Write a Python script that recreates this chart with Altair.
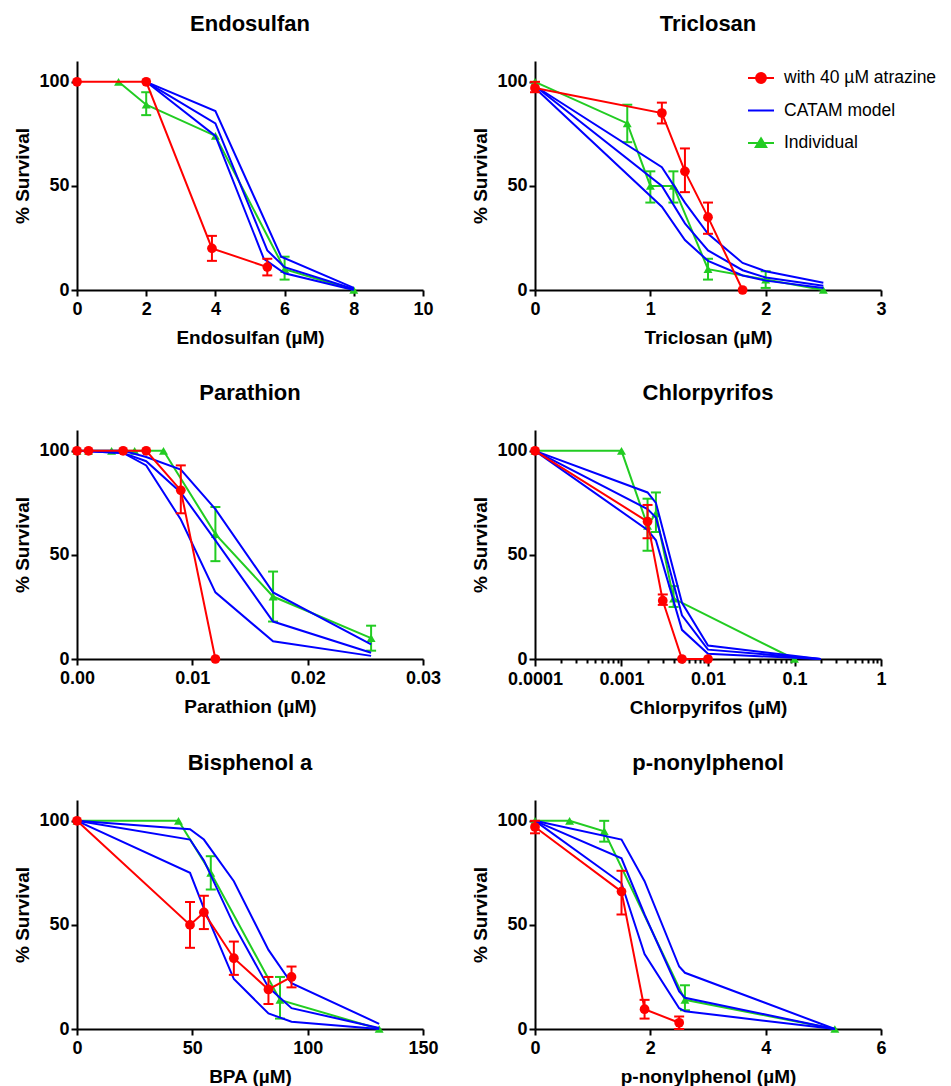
import altair as alt
import pandas as pd

FONT = "Liberation Sans"
RED = "#ff0000"
BLUE = "#0000ff"
GREEN = "#22cc22"

Y_TITLE = "% Survival"
Y_TICKS = [0, 50, 100]
Y_DOMAIN = [0, 110]

LEG_LABELS = ["with 40 \u00b5M atrazine", "CATAM model", "Individual"]

# ---------------- Endosulfan ----------------
endo_red_x = [0, 2, 3.9, 5.5]
endo_red_y = [100, 100, 20, 11]
endo_red_err_x = [3.9, 5.5]
endo_red_err_lo = [14, 7]
endo_red_err_hi = [26, 15]
endo_green_x = [1.2, 2, 4, 6, 8]
endo_green_y = [100, 89, 74, 10, 0]
endo_green_err_x = [2, 6]
endo_green_err_lo = [84, 5]
endo_green_err_hi = [95, 16]
endo_blue1_x = [2, 4, 5.9, 8]
endo_blue1_y = [100, 86, 16, 1]
endo_blue2_x = [2, 4, 5.5, 6, 8]
endo_blue2_y = [100, 80, 19, 11, 0.5]
endo_blue3_x = [2, 4, 5.4, 6, 8]
endo_blue3_y = [100, 74, 15, 8, 0]
endo_x_ticks = [0, 2, 4, 6, 8, 10]

# ---------------- Triclosan ----------------
tri_red_x = [0, 1.1, 1.3, 1.5, 1.8]
tri_red_y = [97, 85, 57, 35, 0]
tri_red_err_x = [0, 1.1, 1.3, 1.5]
tri_red_err_lo = [95, 80, 47, 27]
tri_red_err_hi = [100, 90, 68, 42]
tri_green_x = [0, 0.8, 1.0, 1.2, 1.5, 2.0, 2.5]
tri_green_y = [100, 80, 50, 50, 10, 5, 0]
tri_green_err_x = [0.8, 1.0, 1.2, 1.5, 2.0]
tri_green_err_lo = [71, 42, 42, 5, 1]
tri_green_err_hi = [89, 57, 57, 15, 9]
tri_blue_x = [0, 1.1, 1.3, 1.5, 1.8, 2.0, 2.5]
tri_blue1_y = [98, 59, 42, 27, 13, 9, 3.5]
tri_blue2_y = [98, 50, 32, 19, 9.5, 6, 2]
tri_blue3_y = [97, 40, 24, 14, 7, 4.5, 1]
tri_x_ticks = [0, 1, 2, 3]

# ---------------- Parathion ----------------
par_red_x = [0, 0.001, 0.004, 0.006, 0.009, 0.012]
par_red_y = [100, 100, 100, 100, 81, 0]
par_red_err_x = [0.009]
par_red_err_lo = [70]
par_red_err_hi = [93]
par_green_x = [0, 0.001, 0.003, 0.005, 0.0075, 0.012, 0.017, 0.0255]
par_green_y = [100, 100, 100, 100, 100, 60, 30, 10]
par_green_err_x = [0.012, 0.017, 0.0255]
par_green_err_lo = [47, 18, 4]
par_green_err_hi = [73, 42, 16]
par_blue_x = [0, 0.004, 0.006, 0.009, 0.012, 0.017, 0.0255]
par_blue1_y = [100, 100, 97, 91, 72, 32, 7]
par_blue2_y = [100, 99, 95, 80, 57, 18, 3]
par_blue3_y = [100, 99, 93, 67, 32, 8.5, 1.5]
par_x_ticks = [0, 0.01, 0.02, 0.03]

# ---------------- Chlorpyrifos (log axis) ----------------
chl_red_x = [0.0001, 0.002, 0.003, 0.005, 0.01]
chl_red_y = [100, 66, 28, 0, 0]
chl_red_err_x = [0.002, 0.003]
chl_red_err_lo = [58, 26]
chl_red_err_hi = [74, 31]
chl_green_x = [0.0001, 0.001, 0.002, 0.0025, 0.004, 0.1]
chl_green_y = [100, 100, 64, 70, 29, 0]
chl_green_err_x = [0.002, 0.0025, 0.004]
chl_green_err_lo = [52, 61, 25]
chl_green_err_hi = [77, 80, 35]
chl_blue_x = [0.0001, 0.002, 0.0025, 0.005, 0.01, 0.2]
chl_blue1_y = [100, 80, 75, 27, 6.5, 0]
chl_blue2_y = [100, 72, 68, 21, 4.5, 0]
chl_blue3_y = [100, 62, 57, 14, 2.5, 0]
chl_x_ticks = [k * 10.0 ** e for e in range(-4, 0) for k in range(1, 10)] + [1]

# ---------------- Bisphenol a ----------------
bpa_red_x = [0, 49, 55, 68, 83, 93]
bpa_red_y = [100, 50, 56, 34, 19, 25]
bpa_red_err_x = [49, 55, 68, 83, 93]
bpa_red_err_lo = [39, 48, 26, 12, 20]
bpa_red_err_hi = [61, 64, 42, 25, 30]
bpa_green_x = [0, 44, 58, 88, 131]
bpa_green_y = [100, 100, 75, 14, 0]
bpa_green_err_x = [58, 88]
bpa_green_err_lo = [67, 5]
bpa_green_err_hi = [83, 25]
bpa_blue_x = [0, 49, 55, 68, 83, 93, 131]
bpa_blue1_y = [100, 96, 91, 71, 38, 22, 2.5]
bpa_blue2_y = [100, 91, 81, 50, 20, 10, 0.5]
bpa_blue3_y = [100, 75, 58, 24, 7.5, 3.5, 0]
bpa_x_ticks = [0, 50, 100, 150]

# ---------------- p-nonylphenol ----------------
np_red_x = [0, 1.5, 1.9, 2.5]
np_red_y = [97, 66, 9.5, 3]
np_red_err_x = [0, 1.5, 1.9, 2.5]
np_red_err_lo = [94, 55, 5, 0]
np_red_err_hi = [100, 76, 14, 6]
np_green_x = [0, 0.6, 1.2, 2.6, 5.2]
np_green_y = [100, 100, 95, 14, 0]
np_green_err_x = [1.2, 2.6]
np_green_err_lo = [90, 9]
np_green_err_hi = [100, 21]
np_blue_x = [0, 1.5, 1.9, 2.5, 2.6, 5.2]
np_blue1_y = [100, 91, 71, 30, 27, 0]
np_blue2_y = [100, 82, 55, 18, 15, 0]
np_blue3_y = [100, 70, 36, 10, 8.5, 0]
np_x_ticks = [0, 2, 4, 6]

# legend symbols: line with marker (unit square paths)
PATH_CIRCLE = "M-1,0L1,0M-0.38,0A0.38,0.38,0,1,0,0.38,0A0.38,0.38,0,1,0,-0.38,0Z"
PATH_LINE = "M-1,0L1,0"
PATH_TRI = "M-1,0L1,0M0,-0.36L0.4,0.3L-0.4,0.3Z"

DECADE_TEST = "abs(log(datum.value)/LN10 - round(log(datum.value)/LN10)) < 0.001"


def panel(title, x_title, x_ticks, x_domain, red, red_err, green, green_err, blues,
          log=False, fmt=None, legend=False):
    xscale = alt.Scale(type="log" if log else "linear", domain=x_domain, nice=False, zero=False)
    yscale = alt.Scale(domain=Y_DOMAIN, nice=False)
    ax = dict(values=x_ticks, title=x_title)
    if fmt:
        ax["format"] = fmt
    if log:
        ax["format"] = "~g"
        ax["labelExpr"] = DECADE_TEST + " ? datum.label : ''"
        ax["tickSize"] = {"condition": {"test": DECADE_TEST, "value": 7}, "value": 4}
    xaxis = alt.Axis(**ax)
    yaxis = alt.Axis(values=Y_TICKS, title=Y_TITLE)

    def X(f):
        return alt.X(f"{f}:Q", scale=xscale, axis=xaxis)

    def Y(f):
        return alt.Y(f"{f}:Q", scale=yscale, axis=yaxis)

    blue_rows = []
    for i, (bx, by) in enumerate(blues):
        blue_rows += [{"x": a, "y": b, "s": f"b{i}"} for a, b in zip(bx, by)]
    blue_df = pd.DataFrame(blue_rows)
    red_df = pd.DataFrame({"x": red[0], "y": red[1]})
    green_df = pd.DataFrame({"x": green[0], "y": green[1]})

    def err_layers(err, color):
        edf = pd.DataFrame({"x": err[0], "lo": err[1], "hi": err[2]})
        cap_df = pd.DataFrame({"x": list(err[0]) * 2, "y": list(err[1]) + list(err[2])})
        rule = alt.Chart(edf).mark_rule(color=color, strokeWidth=2).encode(
            x=X("x"), y=Y("lo"), y2="hi")
        caps = alt.Chart(cap_df).mark_tick(orient="horizontal", color=color, size=10,
                                           thickness=2, opacity=1).encode(x=X("x"), y=Y("y"))
        return [rule, caps]

    layers = []
    layers.append(alt.Chart(green_df).mark_line(color=GREEN, strokeWidth=2).encode(x=X("x"), y=Y("y")))
    layers += err_layers(green_err, GREEN)
    layers.append(alt.Chart(green_df).mark_point(filled=True, shape="triangle-up", size=80,
                                                 color=GREEN, opacity=1).encode(x=X("x"), y=Y("y")))
    layers.append(alt.Chart(blue_df).mark_line(color=BLUE, strokeWidth=2).encode(
        x=X("x"), y=Y("y"), detail="s:N"))
    layers.append(alt.Chart(red_df).mark_line(color=RED, strokeWidth=2).encode(x=X("x"), y=Y("y")))
    layers += err_layers(red_err, RED)
    layers.append(alt.Chart(red_df).mark_point(filled=True, shape="circle", size=95,
                                               color=RED, opacity=1).encode(x=X("x"), y=Y("y")))
    if legend:
        leg = alt.Legend(orient="none", legendX=670, legendY=3, title=None, symbolSize=676,
                         labelOffset=9, rowPadding=9.5, padding=0, symbolStrokeWidth=2,
                         labelFont=FONT, labelFontSize=17.5, labelColor="black", labelLimit=0)
        leg_df = pd.DataFrame({"s": LEG_LABELS})
        cols = [RED, BLUE, GREEN]
        layers.append(
            alt.Chart(leg_df).transform_filter("false").mark_point(filled=False, strokeWidth=2, opacity=1)
            .encode(
                color=alt.Color("s:N", scale=alt.Scale(domain=LEG_LABELS, range=cols), legend=leg),
                fill=alt.Fill("s:N", scale=alt.Scale(domain=LEG_LABELS, range=cols), legend=leg),
                shape=alt.Shape("s:N", scale=alt.Scale(domain=LEG_LABELS,
                                                       range=[PATH_CIRCLE, PATH_LINE, PATH_TRI]), legend=leg),
            )
        )
    return alt.layer(*layers).properties(
        width=346, height=229,
        title=alt.TitleParams(title, font=FONT, fontSize=22, fontWeight="bold", color="black",
                              anchor="middle", offset=25),
    )


p1 = panel("Endosulfan", "Endosulfan (\u00b5M)", endo_x_ticks, [0, 10],
           (endo_red_x, endo_red_y), (endo_red_err_x, endo_red_err_lo, endo_red_err_hi),
           (endo_green_x, endo_green_y), (endo_green_err_x, endo_green_err_lo, endo_green_err_hi),
           [(endo_blue1_x, endo_blue1_y), (endo_blue2_x, endo_blue2_y), (endo_blue3_x, endo_blue3_y)])
p2 = panel("Triclosan", "Triclosan (\u00b5M)", tri_x_ticks, [0, 3],
           (tri_red_x, tri_red_y), (tri_red_err_x, tri_red_err_lo, tri_red_err_hi),
           (tri_green_x, tri_green_y), (tri_green_err_x, tri_green_err_lo, tri_green_err_hi),
           [(tri_blue_x, tri_blue1_y), (tri_blue_x, tri_blue2_y), (tri_blue_x, tri_blue3_y)],
           legend=True)
p3 = panel("Parathion", "Parathion (\u00b5M)", par_x_ticks, [0, 0.03],
           (par_red_x, par_red_y), (par_red_err_x, par_red_err_lo, par_red_err_hi),
           (par_green_x, par_green_y), (par_green_err_x, par_green_err_lo, par_green_err_hi),
           [(par_blue_x, par_blue1_y), (par_blue_x, par_blue2_y), (par_blue_x, par_blue3_y)],
           fmt=".2f")
p4 = panel("Chlorpyrifos", "Chlorpyrifos (\u00b5M)", chl_x_ticks, [0.0001, 1],
           (chl_red_x, chl_red_y), (chl_red_err_x, chl_red_err_lo, chl_red_err_hi),
           (chl_green_x, chl_green_y), (chl_green_err_x, chl_green_err_lo, chl_green_err_hi),
           [(chl_blue_x, chl_blue1_y), (chl_blue_x, chl_blue2_y), (chl_blue_x, chl_blue3_y)],
           log=True)
p5 = panel("Bisphenol a", "BPA (\u00b5M)", bpa_x_ticks, [0, 150],
           (bpa_red_x, bpa_red_y), (bpa_red_err_x, bpa_red_err_lo, bpa_red_err_hi),
           (bpa_green_x, bpa_green_y), (bpa_green_err_x, bpa_green_err_lo, bpa_green_err_hi),
           [(bpa_blue_x, bpa_blue1_y), (bpa_blue_x, bpa_blue2_y), (bpa_blue_x, bpa_blue3_y)])
p6 = panel("p-nonylphenol", "p-nonylphenol (\u00b5M)", np_x_ticks, [0, 6],
           (np_red_x, np_red_y), (np_red_err_x, np_red_err_lo, np_red_err_hi),
           (np_green_x, np_green_y), (np_green_err_x, np_green_err_lo, np_green_err_hi),
           [(np_blue_x, np_blue1_y), (np_blue_x, np_blue2_y), (np_blue_x, np_blue3_y)])

chart = alt.ConcatChart(
    concat=[p1, p2, p3, p4, p5, p6], columns=2,
    spacing={"row": 35, "column": 30}, align="each",
    padding={"left": 5, "top": 5, "right": 0, "bottom": 0},
).configure_view(stroke=None).configure_axis(
    domainColor="black", domainWidth=2, tickColor="black", tickWidth=2, tickSize=6,
    grid=False, labelFont=FONT, labelFontSize=18, labelFontWeight="bold", labelColor="black",
    titleFont=FONT, titleFontSize=19, titleFontWeight="bold", titleColor="black",
    labelFlush=False, labelOverlap=False, labelPadding=4,
).configure_axisX(titlePadding=10).configure_axisY(labelPadding=2, titlePadding=6)

chart.save("out.html", embed_options={"renderer": "svg", "actions": False})
